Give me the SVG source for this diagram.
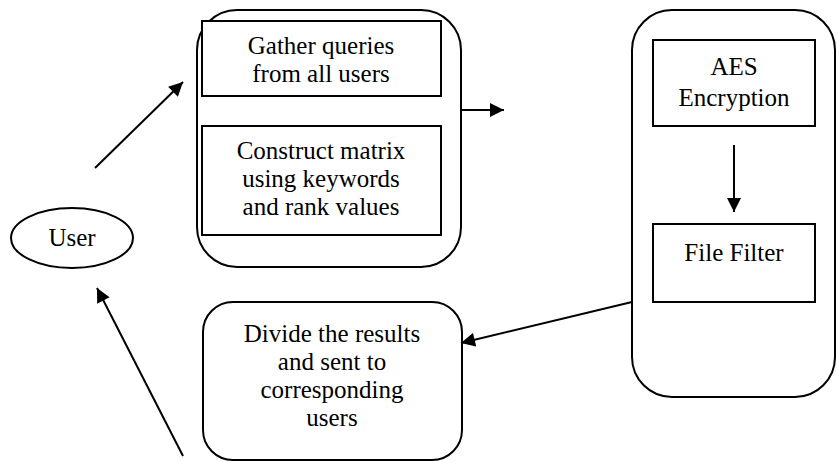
<svg xmlns="http://www.w3.org/2000/svg" width="837" height="462" viewBox="0 0 837 462">
<style>
.box{fill:#fff;stroke:#000;stroke-width:2}
.t{font-family:'Liberation Serif','Times New Roman','DejaVu Serif',serif;font-size:25px;fill:#000;text-anchor:middle}
.c{stroke:#000;stroke-width:2;fill:none}
</style>
<defs>
<marker id="ah" viewBox="0 0 10 10" refX="10" refY="5" markerWidth="15" markerHeight="14" markerUnits="userSpaceOnUse" orient="auto">
<path d="M0,0 L10,5 L0,10 z" fill="#000"/>
</marker>
</defs>
<rect width="837" height="462" fill="#fff"/>
<g id="query-group">
<rect class="box" x="197" y="10" width="264" height="257" rx="40" ry="40"/>
</g>
<g id="gather">
<rect class="box" x="202" y="21" width="239" height="75"/>
<text class="t" x="321" y="54"><tspan x="321">Gather queries</tspan><tspan x="321" dy="28">from all users</tspan></text>
</g>
<g id="construct">
<rect class="box" x="202" y="126" width="239" height="109"/>
<text class="t" x="321" y="159"><tspan x="321">Construct matrix</tspan><tspan x="321" dy="28">using keywords</tspan><tspan x="321" dy="28">and rank values</tspan></text>
</g>
<g id="user">
<ellipse class="box" cx="72" cy="238" rx="61" ry="30"/>
<text class="t" x="72" y="246">User</text>
</g>
<g id="server">
<rect class="box" x="632" y="10" width="203" height="387" rx="40" ry="40"/>
</g>
<g id="aes">
<rect class="box" x="653" y="40" width="162" height="86"/>
<text class="t" x="734" y="75"><tspan x="734">AES</tspan><tspan x="734" dy="31">Encryption</tspan></text>
</g>
<g id="filter">
<rect class="box" x="653" y="224" width="162" height="78"/>
<text class="t" x="734" y="261">File Filter</text>
</g>
<g id="divide">
<rect class="box" x="203" y="302" width="259" height="158" rx="30" ry="30"/>
<text class="t" x="332" y="342"><tspan x="332">Divide the results</tspan><tspan x="332" dy="28">and sent to</tspan><tspan x="332" dy="28">corresponding</tspan><tspan x="332" dy="28">users</tspan></text>
</g>
<g id="connectors">
<line class="c" x1="95" y1="168" x2="183" y2="82" marker-end="url(#ah)"/>
<line class="c" x1="461" y1="110" x2="504" y2="110" marker-end="url(#ah)"/>
<line class="c" x1="734" y1="145" x2="734" y2="212" marker-end="url(#ah)"/>
<line class="c" x1="632" y1="302" x2="461" y2="343" marker-end="url(#ah)"/>
<line class="c" x1="183" y1="456" x2="97" y2="288" marker-end="url(#ah)"/>
</g>
</svg>
